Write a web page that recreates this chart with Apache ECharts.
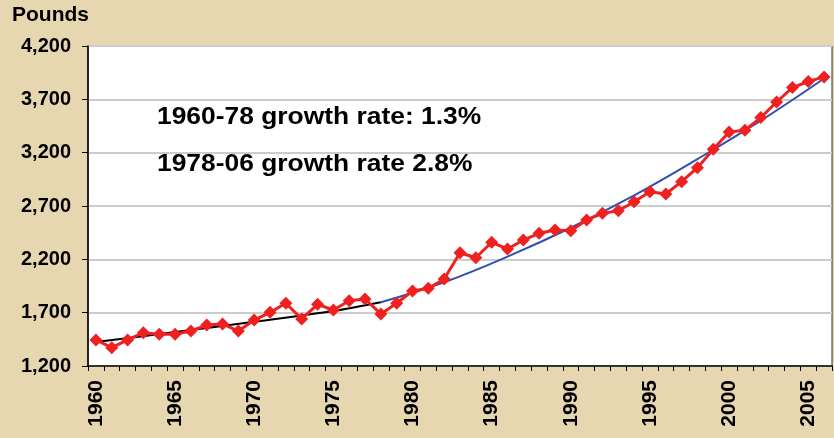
<!DOCTYPE html>
<html><head><meta charset="utf-8">
<script src="https://cdn.jsdelivr.net/npm/echarts@6/dist/echarts.min.js"></script>
<style>html,body{margin:0;padding:0;background:#e6d7b1;}#c{width:834px;height:438px;}</style>
</head><body><div id="c"></div>
<script>
const years = [];
for (let y = 1960; y <= 2006; y++) years.push(String(y));
const pounds = [1444,1372,1444,1512,1497,1497,1528,1584,1594,1528,
  1631,1703,1788,1641,1778,1725,1812,1828,1688,1788,
  1903,1928,2016,2262,2215,2360,2297,2381,2444,2475,
  2469,2569,2631,2656,2740,2834,2812,2928,3059,3231,
  3394,3410,3529,3675,3810,3867,3910];
// trend lines read at a few years (others left empty)
const trend1960Years = ['1960','1965','1970','1975','1978'];
const trend1960Vals = [1425,1518,1615,1715,1797];
const trend1978Years = ['1978','1982','1986','1990','1994','1998','2002','2006'];
const trend1978Vals = [1797,1985,2225,2496,2800,3140,3500,3895];
const yTicks = [1200,1700,2200,2700,3200,3700,4200];
const note1 = '1960-78 growth rate: 1.3%';
const note2 = '1978-06 growth rate 2.8%';

function toSeries(ys, vs){
  return years.map(y => { const i = ys.indexOf(y); return i >= 0 ? vs[i] : null; });
}
const FONT = 'Liberation Sans, Arial, sans-serif';

const chart = echarts.init(document.getElementById('c'));
chart.setOption({
  backgroundColor: '#e6d7b1',
  animation: false,
  grid: {left: 88, right: 2, top: 46, bottom: 72, show: true, backgroundColor: '#ffffff', borderColor: '#333', borderWidth: 1},
  xAxis: {
    type: 'category', data: years, boundaryGap: true,
    axisLine: {lineStyle: {color: '#000', width: 1.5}},
    axisTick: {show: true, interval: 0, length: 5, lineStyle: {color: '#000'}},
    axisLabel: {interval: 4, rotate: 90, fontFamily: FONT, fontWeight: 'bold', fontSize: 21, color: '#000', margin: 14},
    splitLine: {show: false}
  },
  yAxis: {
    type: 'value', min: yTicks[0], max: yTicks[yTicks.length - 1], interval: 500,
    axisLine: {show: true, lineStyle: {color: '#000', width: 1.5}},
    axisTick: {show: true, length: 6, lineStyle: {color: '#000'}},
    axisLabel: {fontFamily: FONT, fontWeight: 'bold', fontSize: 20, color: '#000', margin: 17,
      formatter: v => v.toLocaleString('en-US')},
    splitLine: {lineStyle: {color: '#cccccc', width: 2}}
  },
  graphic: [
    {type: 'text', x: 12, y: 5, style: {text: 'Pounds', fontFamily: FONT, fontWeight: 'bold', fontSize: 21, fill: '#000', verticalAlign: 'top'}},
    {type: 'text', x: 157, y: 105, scaleX: 1.1, style: {text: note1, fontFamily: FONT, fontWeight: 'bold', fontSize: 24, fill: '#000', verticalAlign: 'top'}},
    {type: 'text', x: 157, y: 152, scaleX: 1.1, style: {text: note2, fontFamily: FONT, fontWeight: 'bold', fontSize: 24, fill: '#000', verticalAlign: 'top'}}
  ],
  series: [
    {type: 'line', data: toSeries(trend1960Years, trend1960Vals), connectNulls: true, symbol: 'none', smooth: 0.3,
      lineStyle: {color: '#000', width: 2}, z: 3},
    {type: 'line', data: toSeries(trend1978Years, trend1978Vals), connectNulls: true, symbol: 'none', smooth: 0.4,
      lineStyle: {color: '#3050b0', width: 2}, z: 3},
    {type: 'line', data: pounds, symbol: 'diamond', symbolSize: 13, showAllSymbol: true,
      itemStyle: {color: '#ee2020'}, lineStyle: {color: '#ee2020', width: 3}, z: 4}
  ]
});
</script></body></html>
